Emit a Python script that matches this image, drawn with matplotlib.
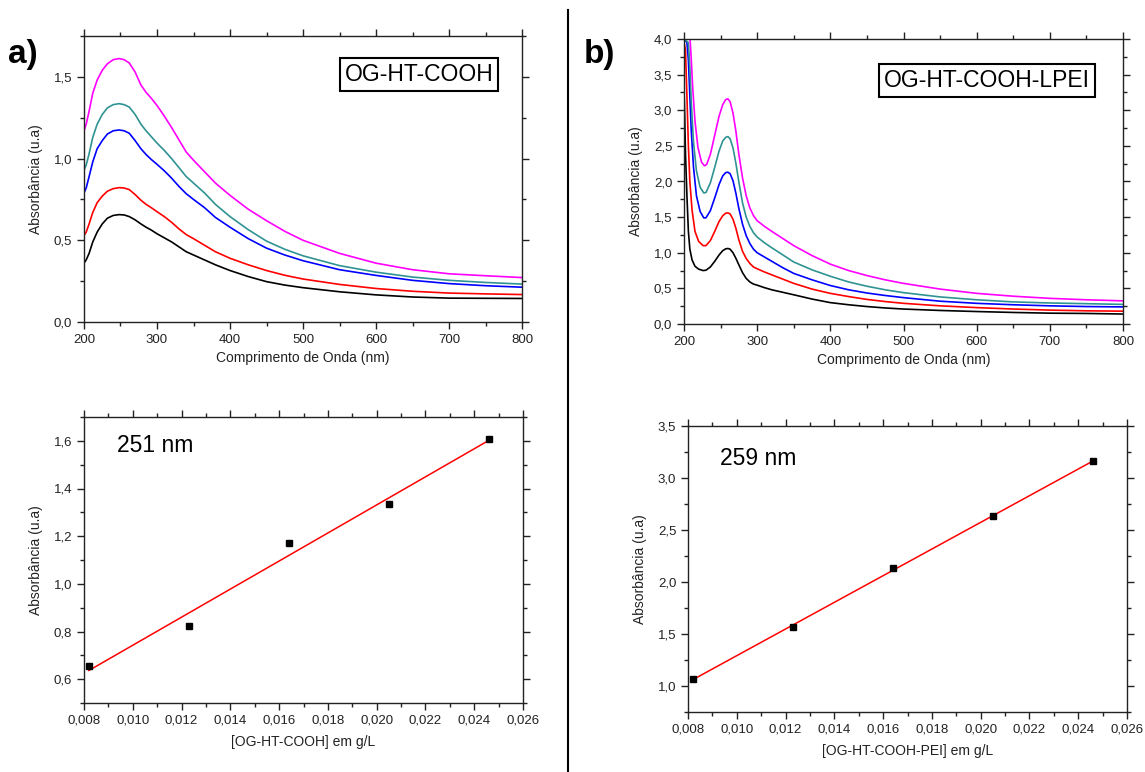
import numpy as np
import matplotlib
matplotlib.use("Agg")
import matplotlib.pyplot as plt
from matplotlib.ticker import MultipleLocator, FuncFormatter

plt.rcParams['font.family'] = ['Liberation Sans', 'DejaVu Sans']

# ---------------- data: panel a spectra ----------------
wl_a = [200, 203, 207, 212, 218, 225, 232, 240, 248, 255, 262, 270, 278, 285, 292, 300,
        310, 320, 330, 340, 350, 365, 380, 400, 425, 450, 475, 500, 550, 600, 650, 700, 750, 800]
a_black = [0.36, 0.38, 0.42, 0.49, 0.55, 0.60, 0.635, 0.652, 0.657, 0.655, 0.645, 0.625, 0.60,
           0.58, 0.563, 0.54, 0.515, 0.49, 0.46, 0.43, 0.41, 0.38, 0.35, 0.315, 0.278, 0.247,
           0.226, 0.21, 0.185, 0.166, 0.153, 0.146, 0.145, 0.144]
a_red = [0.53, 0.55, 0.60, 0.67, 0.73, 0.77, 0.80, 0.816, 0.822, 0.82, 0.81, 0.78, 0.745,
         0.72, 0.70, 0.675, 0.645, 0.61, 0.57, 0.535, 0.51, 0.47, 0.43, 0.39, 0.35, 0.315,
         0.286, 0.263, 0.23, 0.205, 0.188, 0.177, 0.172, 0.168]
a_blue = [0.79, 0.82, 0.89, 0.98, 1.06, 1.11, 1.15, 1.17, 1.175, 1.17, 1.155, 1.11, 1.06,
          1.025, 0.995, 0.965, 0.925, 0.88, 0.83, 0.785, 0.75, 0.70, 0.64, 0.58, 0.51, 0.452,
          0.41, 0.375, 0.32, 0.285, 0.255, 0.235, 0.222, 0.213]
a_teal = [0.93, 0.96, 1.03, 1.13, 1.21, 1.27, 1.31, 1.33, 1.336, 1.33, 1.315, 1.27, 1.21,
          1.17, 1.135, 1.095, 1.05, 1.0, 0.945, 0.89, 0.85, 0.79, 0.72, 0.645, 0.565, 0.495,
          0.445, 0.405, 0.345, 0.305, 0.275, 0.255, 0.242, 0.232]
a_magenta = [1.17, 1.21, 1.29, 1.40, 1.48, 1.54, 1.58, 1.605, 1.612, 1.605, 1.585, 1.53, 1.45,
             1.405, 1.37, 1.325, 1.26, 1.19, 1.115, 1.04, 0.99, 0.92, 0.85, 0.775, 0.69, 0.62,
             0.555, 0.50, 0.42, 0.36, 0.32, 0.295, 0.283, 0.272]

# ---------------- data: panel b spectra ----------------
wl_b_black = [200, 201, 202, 204, 206, 208, 211, 215, 220, 226, 230, 236, 242, 248, 253, 257,
              260, 263, 267, 271, 275, 280, 285, 290, 295, 300, 310, 320, 335, 350, 375, 400,
              425, 450, 475, 500, 550, 600, 650, 700, 750, 800]
b_black = [3.3, 2.9, 2.4, 1.8, 1.3, 1.05, 0.9, 0.81, 0.77, 0.75, 0.755, 0.80, 0.88, 0.97, 1.03,
           1.055, 1.06, 1.05, 1.00, 0.92, 0.83, 0.72, 0.64, 0.59, 0.56, 0.545, 0.51, 0.48, 0.445,
           0.41, 0.35, 0.30, 0.27, 0.245, 0.225, 0.21, 0.19, 0.175, 0.162, 0.152, 0.148, 0.14]
wl_b_red = [200, 202, 204, 206, 208, 211, 215, 220, 226, 230, 236, 242, 248, 253, 257, 260,
            263, 267, 271, 275, 280, 285, 290, 295, 300, 310, 320, 335, 350, 375, 400, 425,
            450, 475, 500, 550, 600, 650, 700, 750, 800]
b_red = [3.95, 3.85, 3.2, 2.5, 2.0, 1.6, 1.3, 1.16, 1.10, 1.10, 1.17, 1.30, 1.44, 1.52, 1.555,
         1.56, 1.545, 1.47, 1.34, 1.18, 1.02, 0.92, 0.85, 0.80, 0.775, 0.73, 0.69, 0.63, 0.57,
         0.49, 0.43, 0.385, 0.345, 0.315, 0.29, 0.255, 0.23, 0.21, 0.195, 0.185, 0.18]
wl_b_blue = [200, 204, 206, 208, 210, 213, 217, 222, 227, 230, 236, 242, 248, 253, 257, 260,
             263, 267, 271, 275, 280, 285, 290, 295, 300, 310, 320, 335, 350, 375, 400, 425,
             450, 475, 500, 550, 600, 650, 700, 750, 800]
b_blue = [4.0, 3.95, 3.7, 3.2, 2.7, 2.2, 1.8, 1.58, 1.49, 1.49, 1.59, 1.77, 1.96, 2.08, 2.125,
          2.13, 2.11, 2.01, 1.83, 1.62, 1.40, 1.24, 1.13, 1.05, 1.0, 0.94, 0.88, 0.79, 0.71,
          0.62, 0.54, 0.48, 0.435, 0.40, 0.37, 0.32, 0.29, 0.27, 0.255, 0.245, 0.24]
wl_b_teal = [200, 206, 208, 210, 213, 217, 222, 227, 230, 236, 242, 248, 253, 257, 260, 263,
             267, 271, 275, 280, 285, 290, 295, 300, 310, 320, 335, 350, 375, 400, 425, 450,
             475, 500, 550, 600, 650, 700, 750, 800]
b_teal = [4.0, 3.95, 3.6, 3.1, 2.55, 2.15, 1.92, 1.84, 1.845, 1.98, 2.20, 2.43, 2.57, 2.62,
          2.63, 2.60, 2.47, 2.25, 1.99, 1.70, 1.50, 1.37, 1.28, 1.22, 1.14, 1.07, 0.97, 0.87,
          0.76, 0.67, 0.59, 0.53, 0.48, 0.44, 0.38, 0.34, 0.31, 0.295, 0.285, 0.275]
wl_b_magenta = [200, 208, 210, 212, 215, 219, 224, 228, 231, 236, 242, 248, 253, 257, 260, 263,
                267, 271, 275, 280, 285, 290, 295, 300, 310, 320, 335, 350, 375, 400, 425, 450,
                475, 500, 550, 600, 650, 700, 750, 800]
b_magenta = [4.05, 4.05, 3.7, 3.3, 2.85, 2.48, 2.27, 2.22, 2.24, 2.38, 2.65, 2.92, 3.08, 3.15,
             3.16, 3.12, 2.96, 2.70, 2.38, 2.05, 1.80, 1.63, 1.52, 1.45, 1.37, 1.30, 1.20, 1.10,
             0.96, 0.84, 0.75, 0.68, 0.62, 0.57, 0.49, 0.43, 0.39, 0.36, 0.34, 0.325]

# ---------------- data: calibration ----------------
conc = [0.0082, 0.0123, 0.0164, 0.0205, 0.0246]
abs_a = [0.657, 0.824, 1.172, 1.334, 1.609]
abs_b = [1.07, 1.565, 2.13, 2.63, 3.165]

colors = ['black', '#ff0000', '#0000ff', '#2f9393', '#ff00ff']

fig = plt.figure(figsize=(11.45, 7.72), dpi=100)
W, H = 1145.0, 772.0

def axes_px(x0, y0, x1, y1):
    return fig.add_axes([x0 / W, 1 - y1 / H, (x1 - x0) / W, (y1 - y0) / H])

def comma_fmt(nd):
    return FuncFormatter(lambda v, p: (f"{v:.{nd}f}").replace('.', ','))

def style(ax):
    ax.tick_params(which='both', direction='out', top=True, right=True,
                   labelsize=9.5, colors='#222222', width=1.0)
    ax.tick_params(which='major', length=5)
    ax.tick_params(which='minor', length=3)
    for s in ax.spines.values():
        s.set_linewidth(1.0)
        s.set_color('#222222')

lab_kw = dict(fontsize=10, color='#222222')

# ---- panel a top ----
ax1 = axes_px(84, 36, 522, 322)
for y, c in zip([a_black, a_red, a_blue, a_teal, a_magenta], colors):
    ax1.plot(wl_a, y, color=c, lw=1.2)
ax1.set_xlim(200, 800)
ax1.set_ylim(0, 1.75)
ax1.xaxis.set_major_locator(MultipleLocator(100))
ax1.xaxis.set_minor_locator(MultipleLocator(50))
ax1.yaxis.set_major_locator(MultipleLocator(0.5))
ax1.yaxis.set_minor_locator(MultipleLocator(0.25))
ax1.yaxis.set_major_formatter(comma_fmt(1))
style(ax1)
ax1.set_xlabel('Comprimento de Onda (nm)', labelpad=4, **lab_kw)
ax1.set_ylabel('Absorbância (u.a)', labelpad=8, **lab_kw)
ax1.text(0.765, 0.864, 'OG-HT-COOH', transform=ax1.transAxes, fontsize=16.5,
         ha='center', va='center',
         bbox=dict(boxstyle='square,pad=0.22', fc='white', ec='black', lw=1.5))

# ---- panel b top ----
ax2 = axes_px(684, 39, 1123, 324)
for x, y, c in zip([wl_b_black, wl_b_red, wl_b_blue, wl_b_teal, wl_b_magenta],
                   [b_black, b_red, b_blue, b_teal, b_magenta], colors):
    ax2.plot(x, y, color=c, lw=1.2)
ax2.set_xlim(200, 800)
ax2.set_ylim(0, 4.0)
ax2.xaxis.set_major_locator(MultipleLocator(100))
ax2.xaxis.set_minor_locator(MultipleLocator(50))
ax2.yaxis.set_major_locator(MultipleLocator(0.5))
ax2.yaxis.set_minor_locator(MultipleLocator(0.25))
ax2.yaxis.set_major_formatter(comma_fmt(1))
style(ax2)
ax2.set_xlabel('Comprimento de Onda (nm)', labelpad=4, **lab_kw)
ax2.set_ylabel('Absorbância (u.a)', labelpad=8, **lab_kw)
ax2.text(0.691, 0.855, 'OG-HT-COOH-LPEI', transform=ax2.transAxes, fontsize=16.5,
         ha='center', va='center',
         bbox=dict(boxstyle='square,pad=0.22', fc='white', ec='black', lw=1.5))

# ---- panel a bottom ----
ax3 = axes_px(84, 417, 523, 703)
ka, ba = np.polyfit(conc, abs_a, 1)
xf = np.array([conc[0], conc[-1]])
ax3.plot(xf, ka * xf + ba, color='#ff0000', lw=1.1)
ax3.plot(conc, abs_a, 's', color='black', ms=5)
ax3.set_xlim(0.008, 0.026)
ax3.set_ylim(0.5, 1.7)
ax3.xaxis.set_major_locator(MultipleLocator(0.002))
ax3.xaxis.set_minor_locator(MultipleLocator(0.001))
ax3.yaxis.set_major_locator(MultipleLocator(0.2))
ax3.yaxis.set_minor_locator(MultipleLocator(0.1))
ax3.xaxis.set_major_formatter(comma_fmt(3))
ax3.yaxis.set_major_formatter(comma_fmt(1))
style(ax3)
ax3.set_xlabel('[OG-HT-COOH] em g/L', labelpad=6, **lab_kw)
ax3.set_ylabel('Absorbância (u.a)', labelpad=8, **lab_kw)
ax3.text(0.076, 0.90, '251 nm', transform=ax3.transAxes, fontsize=16.5,
         ha='left', va='center')

# ---- panel b bottom ----
ax4 = axes_px(688, 426, 1127, 712)
kb, bb = np.polyfit(conc, abs_b, 1)
ax4.plot(xf, kb * xf + bb, color='#ff0000', lw=1.1)
ax4.plot(conc, abs_b, 's', color='black', ms=5)
ax4.set_xlim(0.008, 0.026)
ax4.set_ylim(0.75, 3.5)
ax4.xaxis.set_major_locator(MultipleLocator(0.002))
ax4.xaxis.set_minor_locator(MultipleLocator(0.001))
ax4.yaxis.set_major_locator(MultipleLocator(0.5))
ax4.yaxis.set_minor_locator(MultipleLocator(0.25))
ax4.xaxis.set_major_formatter(comma_fmt(3))
ax4.yaxis.set_major_formatter(comma_fmt(1))
style(ax4)
ax4.set_xlabel('[OG-HT-COOH-PEI] em g/L', labelpad=6, **lab_kw)
ax4.set_ylabel('Absorbância (u.a)', labelpad=8, **lab_kw)
ax4.text(0.072, 0.887, '259 nm', transform=ax4.transAxes, fontsize=16.5,
         ha='left', va='center')

# ---- panel letters and divider ----
fig.text(8 / W, 1 - 55 / H, 'a)', fontsize=24, fontweight='bold', va='center', ha='left')
fig.text(584 / W, 1 - 55 / H, 'b)', fontsize=24, fontweight='bold', va='center', ha='left')
fig.add_artist(plt.Line2D([568 / W, 568 / W], [0, 1 - 10 / H], color='black', lw=1.5,
                          transform=fig.transFigure))

fig.savefig('out.png', dpi=100)
